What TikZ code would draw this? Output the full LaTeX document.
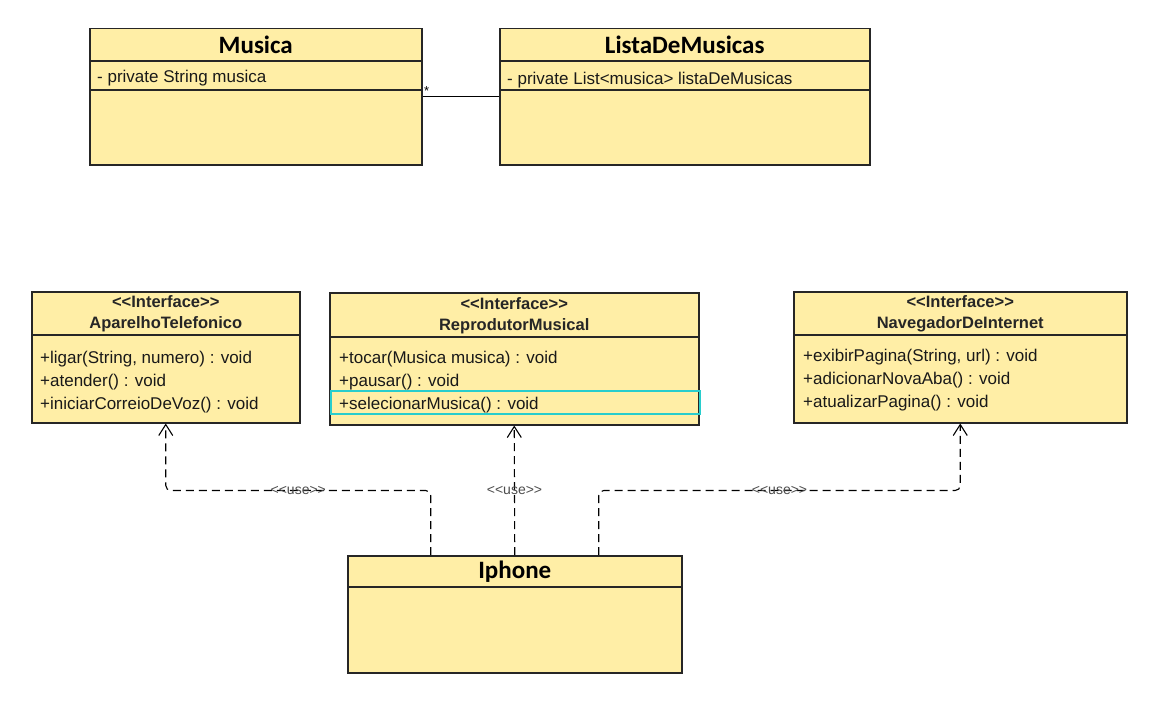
\documentclass[tikz,border=0pt]{standalone}
\usepackage{fontspec}
\setmainfont{Liberation Sans}
\newfontfamily\titlefont{Carlito}
\usepackage{tikz}
\usetikzlibrary{arrows.meta,calc,positioning}
\usepackage{xcolor}
\definecolor{classfill}{RGB}{255,238,166}
\definecolor{selcyan}{RGB}{40,205,205}
\newcommand{\stereo}[1]{<\kern0pt<#1>\kern0pt>}

\begin{document}
\begin{tikzpicture}[x=1pt,y=-1pt,
  classbox/.style={draw=black!85,fill=classfill,line width=1.5pt,anchor=north west,inner sep=0pt},
  sepline/.style={draw=black!85,line width=1.5pt},
  classtitle/.style={font=\titlefont\bfseries\fontsize{25}{28}\selectfont,inner sep=0pt},
  ifacehead/.style={font=\bfseries\fontsize{16.5}{21}\selectfont,align=center,inner sep=0pt,text=black!85},
  member/.style={anchor=west,inner sep=0pt,font=\fontsize{17}{20}\selectfont,text=black!90},
  uses/.style={dashed,dash pattern=on 8pt off 5pt,line width=1.1pt,rounded corners=5pt,-{Straight Barb[length=11pt,width=14pt,line width=1.1pt]}},
  uselabel/.style={font=\fontsize{14}{16}\selectfont,text=black!70,inner sep=1pt}]
  \useasboundingbox (0,0) rectangle (1152,701);
  % class boxes
  \node[classbox,minimum width=332pt,minimum height=136pt] (musica) at (89,28) {};
  \node[classbox,minimum width=370pt,minimum height=136pt] (lista) at (499,28) {};
  \node[classbox,minimum width=268pt,minimum height=131pt] (aparelho) at (31,291) {};
  \node[classbox,minimum width=369pt,minimum height=132pt] (reprodutor) at (329,292) {};
  \node[classbox,minimum width=333pt,minimum height=131pt] (navegador) at (793,291) {};
  \node[classbox,minimum width=334pt,minimum height=117pt] (iphone) at (347,555) {};
  % compartment lines
  \draw[sepline] ($(musica.north west)+(0,33)$) -- ($(musica.north east)+(0,33)$);
  \draw[sepline] ($(musica.north west)+(0,62)$) -- ($(musica.north east)+(0,62)$);
  \draw[sepline] ($(lista.north west)+(0,33)$) -- ($(lista.north east)+(0,33)$);
  \draw[sepline] ($(lista.north west)+(0,62)$) -- ($(lista.north east)+(0,62)$);
  \draw[sepline] ($(aparelho.north west)+(0,44)$) -- ($(aparelho.north east)+(0,44)$);
  \draw[sepline] ($(reprodutor.north west)+(0,45)$) -- ($(reprodutor.north east)+(0,45)$);
  \draw[sepline] ($(navegador.north west)+(0,44)$) -- ($(navegador.north east)+(0,44)$);
  \draw[sepline] ($(iphone.north west)+(0,32)$) -- ($(iphone.north east)+(0,32)$);
  % selected row
  \node[draw=selcyan,line width=2pt,minimum width=369pt,minimum height=23pt,anchor=north west,inner sep=0pt] (selRow) at (330,390) {};
  % titles
  \node[classtitle] (musicaTitle) at ($(musica.north)+(0,17)$) {Musica};
  \node[classtitle] (listaTitle) at ($(lista.north)+(0,17)$) {ListaDeMusicas};
  \node[classtitle] (iphoneTitle) at ($(iphone.north)+(0,17)$) {Iphone};
  \node[ifacehead] (aparelhoHead) at ($(aparelho.north)+(0,23)$) {\stereo{Interface}\\AparelhoTelefonico};
  \node[ifacehead] (reprodutorHead) at ($(reprodutor.north)+(0,24)$) {\stereo{Interface}\\ReprodutorMusical};
  \node[ifacehead] (navegadorHead) at ($(navegador.north)+(0,23)$) {\stereo{Interface}\\NavegadorDeInternet};
  % attributes and methods
  \node[member] (musicaA1) at ($(musica.north west)+(8,50)$) {- private String musica};
  \node[member] (listaA1) at ($(lista.north west)+(8,52)$) {- private List<musica> listaDeMusicas};
  \node[member] (aparelhoM1) at ($(aparelho.north west)+(9,68)$) {+ligar(String, numero) : void};
  \node[member] (aparelhoM2) at ($(aparelho.north west)+(9,91)$) {+atender() : void};
  \node[member] (aparelhoM3) at ($(aparelho.north west)+(9,114)$) {+iniciarCorreioDeVoz() : void};
  \node[member] (reprodutorM1) at ($(reprodutor.north west)+(10,67)$) {+tocar(Musica musica) : void};
  \node[member] (reprodutorM2) at ($(reprodutor.north west)+(10,90)$) {+pausar() : void};
  \node[member] (reprodutorM3) at ($(reprodutor.north west)+(10,113)$) {+selecionarMusica() : void};
  \node[member] (navegadorM1) at ($(navegador.north west)+(10,66)$) {+exibirPagina(String, url) : void};
  \node[member] (navegadorM2) at ($(navegador.north west)+(10,89)$) {+adicionarNovaAba() : void};
  \node[member] (navegadorM3) at ($(navegador.north west)+(10,112)$) {+atualizarPagina() : void};
  % association
  \draw[line width=1.1pt] (musica.east) -- (lista.west)
    node[pos=0,anchor=south west,inner sep=1pt,font=\fontsize{13}{14}\selectfont] {*};
  % use dependencies
  \coordinate (iphoneL) at ($(iphone.north)+(-84,0)$);
  \coordinate (iphoneR) at ($(iphone.north)+(84,0)$);
  \coordinate (aparelhoBend) at ($(aparelho.south)+(0,67)$);
  \coordinate (navegadorBend) at ($(navegador.south)+(0,67)$);
  \draw[uses] (iphoneL) |- node[pos=0.75,uselabel] {\stereo{use}} (aparelhoBend) -- (aparelho.south);
  \draw[uses] (iphone.north) -- node[pos=0.5,uselabel] {\stereo{use}} (reprodutor.south);
  \draw[uses] (iphoneR) |- node[pos=0.75,uselabel] {\stereo{use}} (navegadorBend) -- (navegador.south);
\end{tikzpicture}
\end{document}
